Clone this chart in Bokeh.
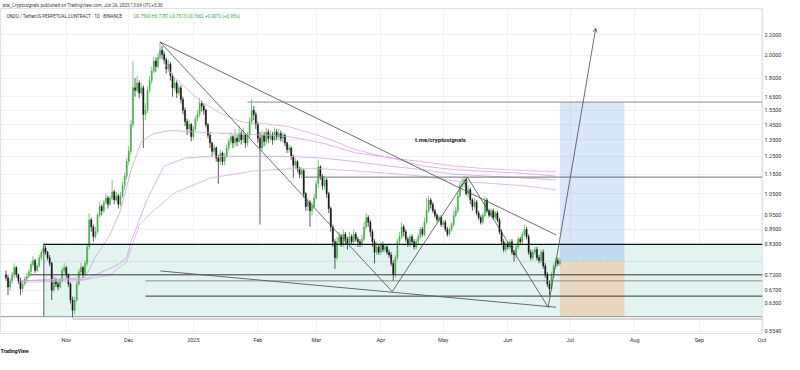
import pandas as pd
from bokeh.plotting import figure
from bokeh.models import (Range1d, FixedTicker, NumeralTickFormatter, CustomJSTickFormatter,
                          Label, Title, Arrow, OpenHead, Span)
from bokeh.embed import file_html
from bokeh.resources import INLINE

# ---------------- data ----------------
start_date = "2024-10-03"
first_open = 0.72
closes = [
    0.71, 0.68, 0.70, 0.72, 0.745, 0.72, 0.70, 0.675, 0.69, 0.705,
    0.715, 0.73, 0.755, 0.77, 0.735, 0.75, 0.78, 0.80, 0.815, 0.80,
    0.78, 0.76, 0.67, 0.70, 0.69, 0.68, 0.70, 0.735, 0.745, 0.72,
    0.69, 0.64, 0.61, 0.64, 0.69, 0.73, 0.745, 0.72, 0.76, 0.82,
    0.93, 0.90, 0.86, 0.88, 0.95, 0.99, 0.97, 1.01, 1.03, 1.00,
    1.03, 1.06, 1.02, 1.04, 1.00, 1.04, 1.09, 1.14, 1.22, 1.28,
    1.45, 1.72, 1.70, 1.76, 1.68, 1.72, 1.52, 1.55, 1.70, 1.78,
    1.86, 1.95, 1.90, 1.98, 2.05, 2.01, 1.96, 1.88, 1.92, 1.82,
    1.72, 1.76, 1.68, 1.72, 1.63, 1.55, 1.47, 1.42, 1.45, 1.37,
    1.42, 1.49, 1.52, 1.60, 1.58, 1.55, 1.45, 1.38, 1.33, 1.28,
    1.30, 1.24, 1.22, 1.27, 1.22, 1.25, 1.30, 1.34, 1.37, 1.33,
    1.36, 1.34, 1.39, 1.35, 1.38, 1.33, 1.38, 1.47, 1.55, 1.52,
    1.45, 1.36, 1.30, 1.38, 1.34, 1.40, 1.36, 1.38, 1.35, 1.40,
    1.37, 1.39, 1.36, 1.38, 1.33, 1.29, 1.30, 1.25, 1.20, 1.22,
    1.18, 1.15, 1.17, 1.05, 0.99, 1.01, 0.97, 0.99, 1.03, 1.10,
    1.19, 1.14, 1.09, 1.12, 1.05, 0.98, 0.90, 0.84, 0.78, 0.84,
    0.86, 0.83, 0.87, 0.85, 0.83, 0.86, 0.84, 0.87, 0.85, 0.84,
    0.83, 0.85, 0.90, 0.94, 0.92, 0.88, 0.84, 0.80, 0.82, 0.80,
    0.83, 0.81, 0.82, 0.80, 0.79, 0.76, 0.72, 0.78, 0.84, 0.86,
    0.90, 0.88, 0.85, 0.83, 0.86, 0.84, 0.82, 0.84, 0.86, 0.89,
    0.87, 0.92, 0.97, 1.02, 1.00, 0.97, 0.95, 0.93, 0.94, 0.91,
    0.92, 0.89, 0.87, 0.89, 0.91, 0.95, 0.97, 1.04, 1.09, 1.10,
    1.12, 1.05, 1.07, 1.02, 0.99, 1.01, 0.96, 0.94, 0.92, 0.95,
    1.02, 0.97, 0.95, 0.97, 0.94, 0.96, 0.93, 0.88, 0.84, 0.81,
    0.83, 0.82, 0.84, 0.80, 0.79, 0.82, 0.85, 0.84, 0.87, 0.89,
    0.86, 0.80, 0.78, 0.80, 0.81, 0.78, 0.77, 0.80, 0.75, 0.72,
    0.69, 0.675, 0.72, 0.75, 0.77, 0.759, 0.7662]
highs = [
    0.735, 0.72, 0.71, 0.73, 0.76, 0.75, 0.725, 0.71, 0.70, 0.715,
    0.725, 0.74, 0.765, 0.785, 0.775, 0.76, 0.79, 0.81, 0.835, 0.825,
    0.805, 0.79, 0.765, 0.715, 0.71, 0.70, 0.71, 0.745, 0.76, 0.75,
    0.725, 0.695, 0.65, 0.65, 0.70, 0.74, 0.76, 0.75, 0.77, 0.83,
    0.96, 0.94, 0.91, 0.90, 0.96, 1.01, 1.00, 1.02, 1.05, 1.04,
    1.04, 1.12, 1.07, 1.06, 1.05, 1.06, 1.11, 1.16, 1.24, 1.31,
    1.48, 1.95, 1.80, 1.82, 1.78, 1.76, 1.74, 1.60, 1.73, 1.82,
    1.90, 1.99, 1.98, 2.02, 2.13, 2.09, 2.04, 1.98, 1.96, 1.94,
    1.84, 1.80, 1.78, 1.75, 1.74, 1.65, 1.57, 1.49, 1.48, 1.46,
    1.44, 1.51, 1.55, 1.64, 1.62, 1.60, 1.56, 1.46, 1.40, 1.34,
    1.32, 1.31, 1.26, 1.29, 1.28, 1.27, 1.32, 1.36, 1.40, 1.38,
    1.42, 1.38, 1.44, 1.41, 1.43, 1.39, 1.40, 1.50, 1.63, 1.58,
    1.54, 1.47, 1.40, 1.41, 1.40, 1.43, 1.42, 1.41, 1.40, 1.43,
    1.42, 1.42, 1.41, 1.40, 1.39, 1.34, 1.32, 1.31, 1.26, 1.24,
    1.23, 1.19, 1.19, 1.18, 1.06, 1.03, 1.02, 1.01, 1.05, 1.12,
    1.23, 1.20, 1.15, 1.14, 1.13, 1.06, 0.99, 0.91, 0.85, 0.86,
    0.88, 0.87, 0.89, 0.88, 0.86, 0.88, 0.87, 0.89, 0.88, 0.86,
    0.85, 0.87, 0.92, 0.96, 0.95, 0.93, 0.89, 0.85, 0.84, 0.83,
    0.84, 0.84, 0.83, 0.83, 0.81, 0.80, 0.77, 0.79, 0.85, 0.88,
    0.92, 0.91, 0.89, 0.86, 0.87, 0.87, 0.85, 0.85, 0.87, 0.90,
    0.90, 0.94, 1.03, 1.04, 1.03, 1.01, 0.98, 0.96, 0.95, 0.95,
    0.93, 0.93, 0.90, 0.90, 0.92, 0.97, 0.99, 1.06, 1.11, 1.13,
    1.14, 1.13, 1.09, 1.08, 1.03, 1.03, 1.02, 0.97, 0.95, 0.96,
    1.04, 1.03, 0.98, 0.98, 0.98, 0.97, 0.97, 0.94, 0.89, 0.85,
    0.84, 0.84, 0.85, 0.85, 0.81, 0.83, 0.86, 0.86, 0.88, 0.91,
    0.90, 0.87, 0.81, 0.81, 0.82, 0.82, 0.79, 0.81, 0.81, 0.76,
    0.73, 0.70, 0.73, 0.76, 0.78, 0.78, 0.7787]
lows = [
    0.70, 0.655, 0.67, 0.69, 0.71, 0.71, 0.69, 0.655, 0.665, 0.685,
    0.695, 0.71, 0.72, 0.745, 0.725, 0.73, 0.745, 0.77, 0.79, 0.79,
    0.77, 0.75, 0.64, 0.665, 0.68, 0.67, 0.675, 0.695, 0.725, 0.71,
    0.68, 0.63, 0.59, 0.60, 0.635, 0.685, 0.72, 0.71, 0.715, 0.75,
    0.81, 0.88, 0.84, 0.85, 0.87, 0.94, 0.95, 0.96, 1.00, 0.98,
    0.99, 1.02, 1.00, 1.01, 0.98, 0.99, 1.03, 1.07, 1.12, 1.20,
    1.26, 1.43, 1.65, 1.68, 1.64, 1.66, 1.30, 1.48, 1.53, 1.68,
    1.75, 1.84, 1.85, 1.88, 1.96, 1.97, 1.92, 1.84, 1.85, 1.78,
    1.65, 1.70, 1.64, 1.66, 1.60, 1.52, 1.44, 1.38, 1.39, 1.34,
    1.35, 1.41, 1.47, 1.50, 1.54, 1.52, 1.43, 1.36, 1.30, 1.25,
    1.26, 1.22, 1.10, 1.20, 1.20, 1.20, 1.24, 1.28, 1.32, 1.30,
    1.31, 1.31, 1.33, 1.32, 1.33, 1.30, 1.31, 1.36, 1.45, 1.48,
    1.42, 1.33, 0.91, 1.28, 1.31, 1.32, 1.33, 1.34, 1.32, 1.34,
    1.35, 1.35, 1.34, 1.33, 1.31, 1.27, 1.27, 1.23, 1.13, 1.18,
    1.16, 1.13, 1.13, 1.03, 0.97, 0.97, 0.90, 0.95, 0.98, 1.02,
    1.08, 1.12, 1.07, 1.07, 1.03, 0.96, 0.88, 0.82, 0.74, 0.77,
    0.83, 0.82, 0.82, 0.83, 0.81, 0.82, 0.83, 0.83, 0.84, 0.82,
    0.82, 0.82, 0.84, 0.89, 0.90, 0.86, 0.82, 0.76, 0.79, 0.79,
    0.79, 0.80, 0.80, 0.79, 0.78, 0.75, 0.70, 0.71, 0.77, 0.83,
    0.85, 0.86, 0.84, 0.82, 0.82, 0.83, 0.81, 0.81, 0.83, 0.85,
    0.86, 0.86, 0.91, 0.96, 0.98, 0.96, 0.94, 0.92, 0.92, 0.90,
    0.90, 0.88, 0.86, 0.86, 0.88, 0.90, 0.94, 0.96, 1.03, 1.07,
    1.08, 1.04, 1.03, 1.00, 0.97, 0.98, 0.95, 0.93, 0.91, 0.91,
    0.94, 0.96, 0.94, 0.94, 0.93, 0.93, 0.92, 0.87, 0.83, 0.80,
    0.80, 0.81, 0.81, 0.79, 0.765, 0.78, 0.81, 0.83, 0.83, 0.86,
    0.85, 0.79, 0.77, 0.77, 0.79, 0.77, 0.76, 0.76, 0.74, 0.71,
    0.68, 0.655, 0.67, 0.71, 0.74, 0.75, 0.7513]

# moving-average style curves (day index from start_date, price)
ma1_idx = [74, 80, 87, 94, 104, 113, 120, 124, 136, 152, 168, 184, 200, 215, 231, 249, 264]
ma1_val = [2.00, 1.82, 1.71, 1.61, 1.52, 1.47, 1.455, 1.455, 1.435, 1.37, 1.29, 1.24, 1.22, 1.195, 1.18, 1.17, 1.165]
ma2_idx = [7, 38, 43, 50, 55, 60, 65, 71, 79, 92, 106, 124, 136, 152, 168, 184, 200, 215, 249, 264]
ma2_val = [0.70, 0.71, 0.783, 0.867, 0.972, 1.168, 1.34, 1.39, 1.41, 1.40, 1.39, 1.38, 1.37, 1.33, 1.27, 1.245, 1.195, 1.175, 1.155, 1.14]
ma3_idx = [7, 38, 54, 58, 60, 68, 76, 86, 98, 119, 136, 152, 168, 184, 200, 215, 249, 264]
ma3_val = [0.70, 0.705, 0.755, 0.78, 0.84, 1.027, 1.195, 1.24, 1.25, 1.25, 1.25, 1.24, 1.22, 1.195, 1.175, 1.15, 1.13, 1.12]
ma4_idx = [7, 35, 50, 58, 64, 70, 81, 87, 98, 119, 136, 152, 184, 200, 215, 249, 264]
ma4_val = [0.695, 0.70, 0.72, 0.766, 0.907, 0.963, 1.055, 1.08, 1.13, 1.168, 1.18, 1.18, 1.155, 1.14, 1.115, 1.09, 1.07]

# drawings (day index, price)
trend_top_idx = [74, 264.2]
trend_top_val = [2.13, 0.867]
zigzag_idx = [74, 185.5, 221.6, 260.4]
zigzag_val = [2.13, 0.666, 1.135, 0.619]
arrow_tip_idx = 283.2
arrow_tip_val = 2.27
trend_low_idx = [74.2, 264.2]
trend_low_val = [0.733, 0.619]
target_price = 1.6097
target_start = 116
level_115 = 1.135
level_115_start = 143.4
box_top = 0.83
box_bottom = 0.5925
box_start = 18.2
level_072 = 0.72
level_072_start = 11.6
level_070 = 0.70
level_065 = 0.652
levels_low_start = 67
level_0586 = 0.586
level_0586_start = 32
last_price = 0.7662
pos_start, pos_end = 266, 297

month_starts = ["2024-11-01", "2024-12-01", "2025-01-01", "2025-02-01", "2025-03-01", "2025-04-01",
                "2025-05-01", "2025-06-01", "2025-07-01", "2025-08-01", "2025-09-01", "2025-10-01"]
month_labels = ["Nov", "Dec", "2025", "Feb", "Mar", "Apr", "May", "Jun", "Jul", "Aug", "Sep", "Oct"]
price_ticks = [0.554, 0.63, 0.67, 0.72, 0.83, 0.89, 0.95, 1.05, 1.15, 1.25, 1.35, 1.45, 1.55, 1.65, 1.8, 2.0, 2.2]

# ---------------- helpers ----------------
T0 = pd.Timestamp(start_date)
DAY = 86400000.0


def ms(d):
    return (T0 - pd.Timestamp("1970-01-01")).total_seconds() * 1000.0 + d * DAY


FONT = "Roboto"
x_start, x_end = ms(-2.6), ms(363.3)

p = figure(width=784, height=354, x_axis_type="datetime", y_axis_type="log",
           x_range=Range1d(x_start, x_end), y_range=Range1d(0.5478, 2.489),
           y_axis_location="right", output_backend="svg", toolbar_location=None,
           min_border_left=0, min_border_right=0, min_border_top=0, min_border_bottom=0)
p.background_fill_color = "white"
p.border_fill_color = "white"
p.outline_line_color = "#d6d9e0"
p.outline_line_width = 0.8

p.title.text = "atai_Cryptosignals published on TradingView.com, Jun 26, 2025 13:04 UTC+5:30"
p.title.text_font_size = "4.5px"
p.title.text_font_style = "normal"
p.title.text_color = "#444444"
p.title.text_font = FONT
p.title.standoff = 1
p.title.offset = 2

p.add_layout(Title(text="TradingView", text_font_size="5px", text_font_style="bold",
                   text_color="#131722", text_font=FONT, align="left", offset=0, standoff=1), "below")

# axes
month_ms = [(pd.Timestamp(m) - pd.Timestamp("1970-01-01")).total_seconds() * 1000.0 for m in month_starts]
p.xaxis.ticker = FixedTicker(ticks=month_ms)
p.xaxis.formatter = CustomJSTickFormatter(args=dict(t=month_ms, l=month_labels), code="""
for (let i = 0; i < t.length; i++) { if (Math.abs(t[i] - tick) < 1000) return l[i]; }
return '';
""")
p.yaxis.ticker = FixedTicker(ticks=price_ticks)
p.yaxis.formatter = NumeralTickFormatter(format="0.0000")
for ax in (p.xaxis, p.yaxis):
    ax.axis_line_color = None
    ax.major_tick_line_color = None
    ax.minor_tick_line_color = None
    ax.major_tick_out = 0
    ax.major_tick_in = 0
    ax.minor_tick_out = 0
    ax.minor_tick_in = 0
    ax.major_label_text_font_size = "5.5px"
    ax.major_label_text_color = "#333333"
    ax.major_label_text_font = FONT
p.yaxis.major_label_standoff = 2
p.xaxis.major_label_standoff = 3

p.xgrid.ticker = FixedTicker(ticks=month_ms)
p.ygrid.ticker = FixedTicker(ticks=price_ticks)
p.xgrid.grid_line_color = "#f0f2f6"
p.ygrid.grid_line_color = "#f0f2f6"

# zone box
p.quad(left=[ms(box_start)], right=[x_end], bottom=[box_bottom], top=[box_top],
       fill_color="#e3f3f0", line_color=None)
# position tool
p.quad(left=[ms(pos_start)], right=[ms(pos_end)], bottom=[last_price], top=[target_price],
       fill_color="#3d85e0", fill_alpha=0.2, line_color=None)
p.quad(left=[ms(pos_start)], right=[ms(pos_end)], bottom=[box_bottom], top=[last_price],
       fill_color="#e9d7bf", line_color=None)

# candles
n = len(closes)
opens = [first_open] + closes[:-1]
xs = [ms(i) for i in range(n)]
cols = ["#4caf50" if c >= o else "#1a1a1a" for o, c in zip(opens, closes)]
p.segment(x0=xs, y0=lows, x1=xs, y1=highs, line_color=cols, line_width=0.7)
p.vbar(x=xs, width=0.6 * DAY, top=[max(o, c) for o, c in zip(opens, closes)],
       bottom=[min(o, c) for o, c in zip(opens, closes)], fill_color=cols, line_color=cols, line_width=0.4)

# moving averages
for idx, val, col in ((ma1_idx, ma1_val, "#e0a8d8"), (ma2_idx, ma2_val, "#cfa3dc"),
                      (ma3_idx, ma3_val, "#c9a6e0"), (ma4_idx, ma4_val, "#d6aee0")):
    p.line([ms(i) for i in idx], val, line_color=col, line_width=0.8)

# horizontal levels
p.segment(x0=[ms(target_start)], y0=[target_price], x1=[x_end], y1=[target_price], line_color="#8a8a8a", line_width=1)
p.segment(x0=[ms(level_115_start)], y0=[level_115], x1=[x_end], y1=[level_115], line_color="#6f6f6f", line_width=1)
p.segment(x0=[ms(box_start)], y0=[box_top], x1=[x_end], y1=[box_top], line_color="#111111", line_width=1.3)
p.segment(x0=[ms(box_start)], y0=[box_top], x1=[ms(box_start)], y1=[box_bottom], line_color="#333333", line_width=0.8)
p.segment(x0=[ms(level_072_start)], y0=[level_072], x1=[x_end], y1=[level_072], line_color="#222222", line_width=0.9)
p.segment(x0=[ms(levels_low_start)], y0=[level_070], x1=[x_end], y1=[level_070], line_color="#777777", line_width=0.8)
p.segment(x0=[ms(levels_low_start)], y0=[level_065], x1=[x_end], y1=[level_065], line_color="#222222", line_width=0.9)
p.segment(x0=[x_start], y0=[box_bottom], x1=[x_end], y1=[box_bottom], line_color="#8c8c8c", line_width=0.9)
p.segment(x0=[ms(level_0586_start)], y0=[level_0586], x1=[x_end], y1=[level_0586], line_color="#a0a0a0", line_width=0.8)
p.add_layout(Span(location=last_price, dimension="width", line_color="#9aa0a8", line_width=0.6, line_dash="1 2"))

# trend lines
p.line([ms(i) for i in trend_top_idx], trend_top_val, line_color="#5a5a5a", line_width=0.9)
p.line([ms(i) for i in trend_low_idx], trend_low_val, line_color="#5a5a5a", line_width=0.9)
p.line([ms(i) for i in zigzag_idx], zigzag_val, line_color="#4a4a4a", line_width=0.8)
p.add_layout(Arrow(end=OpenHead(size=4, line_color="#4a4a4a", line_width=0.8),
                   x_start=ms(zigzag_idx[-1]), y_start=zigzag_val[-1],
                   x_end=ms(arrow_tip_idx), y_end=arrow_tip_val, line_color="#4a4a4a", line_width=0.8))

# watermark text
p.add_layout(Label(x=ms(196.4), y=1.35, text="t.me/cryptosignals", text_font_size="6px",
                   text_font_style="bold", text_color="#222222", text_font=FONT, text_baseline="middle"))

# legend line
p.add_layout(Label(x=x_start, y=2.40, x_offset=6, text="ONDO / TetherUS PERPETUAL CONTRACT · 1D · BINANCE",
                   text_font_size="4.5px", text_color="#333333", text_font=FONT, text_baseline="middle"))
p.add_layout(Label(x=x_start, y=2.40, x_offset=133,
                   text="O0.7590  H0.7787  L0.7513  C0.7662  +0.0072 (+0.95%)",
                   text_font_size="4.5px", text_color="#43a047", text_font=FONT, text_baseline="middle"))

# axis price tags
def tag(price, text, bg, fg="white"):
    p.add_layout(Label(x=x_end, y=price, x_offset=1, text=text, text_font_size="5.5px", text_color=fg,
                       text_font=FONT, text_baseline="middle", text_align="left",
                       background_fill_color=bg, padding=1))


tag(target_price, "1.6097", "#4d8fe6")
tag(last_price, "0.7662", "#4caf50")
tag(0.741, "0.7562", "#6b6f78")
tag(box_bottom, "0.5925", "#f08c2e")
p.add_layout(Label(x=x_end, y=2.39, x_offset=3, text="USDT", text_font_size="5px", text_color="#444444",
                   text_font=FONT, text_baseline="middle"))

open("out.html", "w").write(file_html(p, INLINE))
